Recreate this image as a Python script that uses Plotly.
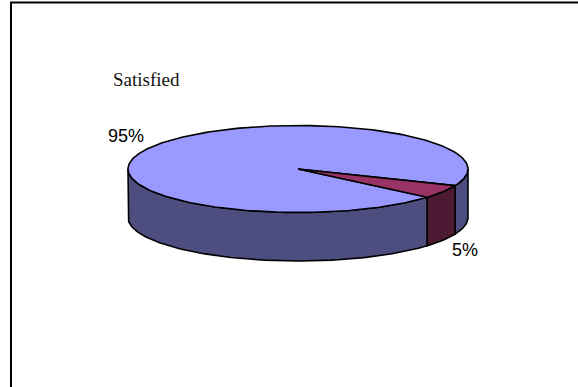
import numpy as np
import plotly.graph_objects as go

# ---- data ----
categories = ["Satisfied", "Not satisfied"]
values = [95, 5]
pct_labels = ["95%", "5%"]
title_text = "Satisfied"

# ---- style ----
top_colors = ["#9999FF", "#993366"]
side_colors = ["#4D4D80", "#4D1A33"]

W, H = 578, 387
cx, cy = 298, 169          # centre of the top face (pixels)
a, b = 170, 43.5           # ellipse semi-axes
depth = 48.5               # pie thickness
start_deg = 40.5           # where the first slice starts (clockwise on screen)

fig = go.Figure()

total = float(sum(values))
angles = []
cur = start_deg
for v in values:
    span = 360.0 * v / total
    angles.append((cur, cur + span))
    cur += span


def arc(t0, t1):
    n = max(2, int(abs(t1 - t0)) + 2)
    t = np.radians(np.linspace(t0, t1, n))
    return cx + a * np.cos(t), cy + b * np.sin(t)


line_style = dict(color="black", width=1.6)

# side walls (only the front half is visible)
for i, (t0, t1) in enumerate(angles):
    for k in range(-1, 3):
        lo = max(t0, 360 * k)
        hi = min(t1, 360 * k + 180)
        if hi > lo:
            x, y = arc(lo, hi)
            xs = np.concatenate([x, x[::-1], x[:1]])
            ys = np.concatenate([y, y[::-1] + depth, y[:1]])
            fig.add_trace(go.Scatter(
                x=xs, y=ys, mode="lines", fill="toself",
                fillcolor=side_colors[i], line=line_style,
                hoverinfo="skip", showlegend=False, name=categories[i]))

# top faces
for i, (t0, t1) in enumerate(angles):
    x, y = arc(t0, t1)
    xs = np.concatenate([[cx], x, [cx]])
    ys = np.concatenate([[cy], y, [cy]])
    fig.add_trace(go.Scatter(
        x=xs, y=ys, mode="lines", fill="toself",
        fillcolor=top_colors[i], line=line_style,
        hoverinfo="skip", showlegend=False, name=categories[i]))

# percentage labels placed outside each slice at its mid angle
annotations = []
for i, (t0, t1) in enumerate(angles):
    mid = np.radians((t0 + t1) / 2.0)
    c, s = np.cos(mid), np.sin(mid)
    lx = cx + a * 1.05 * c
    ly = cy + b * 1.45 * s + (depth if s > 0 else 0)
    annotations.append(dict(
        x=lx, y=ly, xref="x", yref="y", text=pct_labels[i], showarrow=False,
        xanchor="left" if c > 0 else "right", yanchor="middle",
        font=dict(family="Liberation Sans, Arial, sans-serif", size=18, color="black")))

annotations.append(dict(
    x=111, y=79.5, xref="x", yref="y", text=title_text, showarrow=False,
    xanchor="left", yanchor="middle",
    font=dict(family="Liberation Serif, Times New Roman, serif", size=19, color="#111111")))

fig.update_layout(
    width=W, height=H,
    margin=dict(l=0, r=0, t=0, b=0),
    paper_bgcolor="white", plot_bgcolor="white",
    xaxis=dict(range=[0, W], visible=False, fixedrange=True),
    yaxis=dict(range=[H, 0], visible=False, fixedrange=True),
    annotations=annotations,
    shapes=[dict(type="rect", xref="x", yref="y", x0=11, y0=2.5, x1=W + 10, y1=H + 10,
                 line=dict(color="black", width=2), fillcolor="rgba(0,0,0,0)", layer="below")],
)

fig.write_html(
    "out.html",
    config={"displayModeBar": False},
    post_script="document.body.style.margin='0';document.body.style.overflow='hidden';",
)
